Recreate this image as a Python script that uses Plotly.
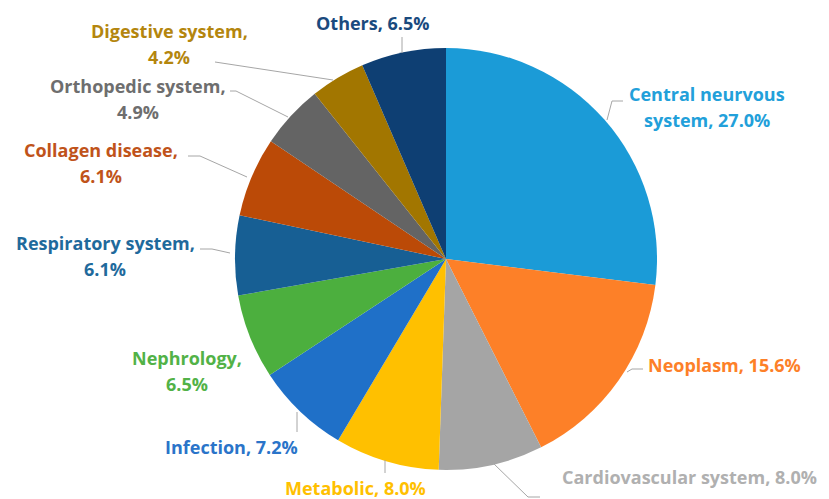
import plotly.graph_objects as go

# ---- data ----
categories = ["Central neurvous system", "Neoplasm", "Cardiovascular system", "Metabolic",
              "Infection", "Nephrology", "Respiratory system", "Collagen disease",
              "Orthopedic system", "Digestive system", "Others"]
values = [27.0, 15.6, 8.0, 8.0, 7.2, 6.5, 6.1, 6.1, 4.9, 4.2, 6.5]
label_texts = ["Central neurvous<br>system, 27.0%", "Neoplasm, 15.6%",
               "Cardiovascular system, 8.0%", "Metabolic, 8.0%", "Infection, 7.2%",
               "Nephrology,<br>6.5%", "Respiratory system,<br>6.1%", "Collagen disease,<br>6.1%",
               "Orthopedic system,<br>4.9%", "Digestive system,<br>4.2%", "Others, 6.5%"]

# ---- styles ----
slice_colors = ["#1b9bd7", "#fd8028", "#a5a5a5", "#ffc000", "#1f70c8", "#4caf3e",
                "#175f94", "#bb4a07", "#646464", "#a27600", "#0e3f73"]
text_colors = ["#22a0da", "#fd8028", "#b0b0b0", "#ffc000", "#2a74c9", "#52b247",
               "#1f6a9c", "#c0531a", "#6e6e6e", "#b4860e", "#1a4a7e"]

W, H = 829, 499
cx, cy, r = 446, 259, 211
LINE_GAP = 26

def px(x, y):
    return x / W, 1 - y / H

# label placement (pixel centre of text block, xanchor)
label_pos = [(707, 107, "center"), (646, 365, "left"), (560, 477, "left"),
             (355, 488, "center"), (231, 447, "center"), (187, 371, "center"),
             (105, 256, "center"), (101, 163, "center"), (138, 99, "center"),
             (169, 44, "center"), (372, 23, "center")]

# leader lines (pixel polylines)
leaders = [
    [(607, 120), (612, 101), (623, 101)],
    [(627, 372), (632, 369), (643, 369)],
    [(493, 463), (528, 497), (540, 497)],
    [(385, 460), (385, 473)],
    [(297, 412), (297, 432)],
    [(230, 253), (212, 249), (200, 249)],
    [(247, 177), (200, 156), (188, 156)],
    [(288, 117), (236, 91), (230, 91)],
    [(333, 80), (215, 62)],
    [(402, 53), (402, 37)],
]

fig = go.Figure(go.Pie(
    labels=categories, values=values, sort=False, direction="clockwise", rotation=0,
    marker=dict(colors=slice_colors, line=dict(width=0)),
    textinfo="none", hoverinfo="label+percent", showlegend=False,
    domain=dict(x=[(cx - r) / W, (cx + r) / W], y=[1 - (cy + r) / H, 1 - (cy - r) / H]),
))

annotations = []
for txt, col, (x, y, xa) in zip(label_texts, text_colors, label_pos):
    lines = txt.split("<br>")
    n = len(lines)
    for i, ln in enumerate(lines):
        ly = y + (i - (n - 1) / 2) * LINE_GAP
        ax, ay = px(x, ly)
        annotations.append(dict(x=ax, y=ay, xref="paper", yref="paper", text=ln, showarrow=False,
                                xanchor=xa, yanchor="middle", align="center",
                                font=dict(family="Open Sans", size=18, color=col, weight="bold")))

shapes = []
for pts in leaders:
    path = "M " + " L ".join(f"{px(x, y)[0]},{px(x, y)[1]}" for x, y in pts)
    shapes.append(dict(type="path", path=path, xref="paper", yref="paper",
                       line=dict(color="#a6a6a6", width=1)))

fig.update_layout(width=W, height=H, margin=dict(l=0, r=0, t=0, b=0),
                  paper_bgcolor="white", plot_bgcolor="white",
                  annotations=annotations, shapes=shapes)

fig.write_html("out.html", config={"displayModeBar": False},
               post_script="document.body.style.margin='0';document.body.style.overflow='hidden';")
